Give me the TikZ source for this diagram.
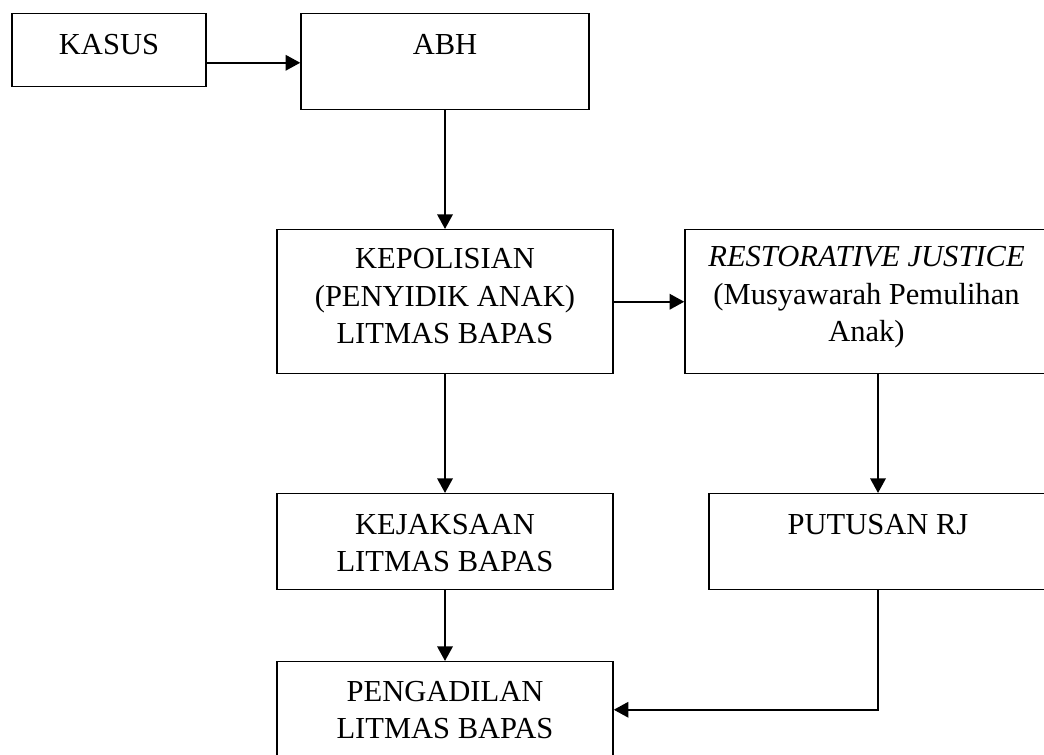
\documentclass[tikz,border=0pt]{standalone}
\usepackage{fontspec}
\setmainfont{Liberation Serif}
\usepackage{tikz}
\usetikzlibrary{arrows.meta, positioning, calc}

\begin{document}
\begin{tikzpicture}[
                    x=0.75pt, y=-0.75pt,
                    ->,
                    >={Triangle[length=11pt, width=11.5pt]},
                    line width=1.8pt,
                    every node/.style={rectangle, draw, line width=1.1pt, inner sep=0pt, align=center, anchor=north, font=\fontsize{22.9pt}{28.1pt}\selectfont}
                ]
                \useasboundingbox (0,0) rectangle (1044,754);
                \node [minimum width=145.5pt, text height=30.75pt, text depth=24pt] (kasus) at (109,13) {KASUS};
                \node [minimum width=216pt, text height=30.75pt, text depth=41.25pt] (abh) at (445,13) {ABH};
                \node [minimum width=252pt, text height=85.5pt, text depth=22.5pt] (kep) at (445,229) {KEPOLISIAN\\(PENYIDIK ANAK)\\LITMAS BAPAS};
                \node [minimum width=272.25pt, text height=84pt, text depth=24pt] (rj) at (866.5,229) {\itshape RESTORATIVE JUSTICE\\(Musyawarah Pemulihan\\Anak)};
                \node [minimum width=252pt, text height=58.5pt, text depth=13.5pt] (kej) at (445,493) {KEJAKSAAN\\LITMAS BAPAS};
                \node [minimum width=253.5pt, text height=30.75pt, text depth=41.25pt] (put) at (878,493) {PUTUSAN RJ};
                \node [minimum width=252pt, text height=57.75pt, text depth=14.25pt] (peng) at (445,661) {PENGADILAN\\LITMAS BAPAS};

                \draw ([yshift=-9.4pt]kasus.east) -- ([yshift=-9.4pt]kasus.east -| abh.west);
                \draw (abh.south) -- (kep.north);
                \draw (kep.east) -- (rj.west);
                \draw (kep.south) -- (kej.north);
                \draw (put.north |- rj.south) -- (put.north);
                \draw (kej.south) -- (peng.north);
                \draw (put.south) |- (peng.east);
\end{tikzpicture}
\end{document}
